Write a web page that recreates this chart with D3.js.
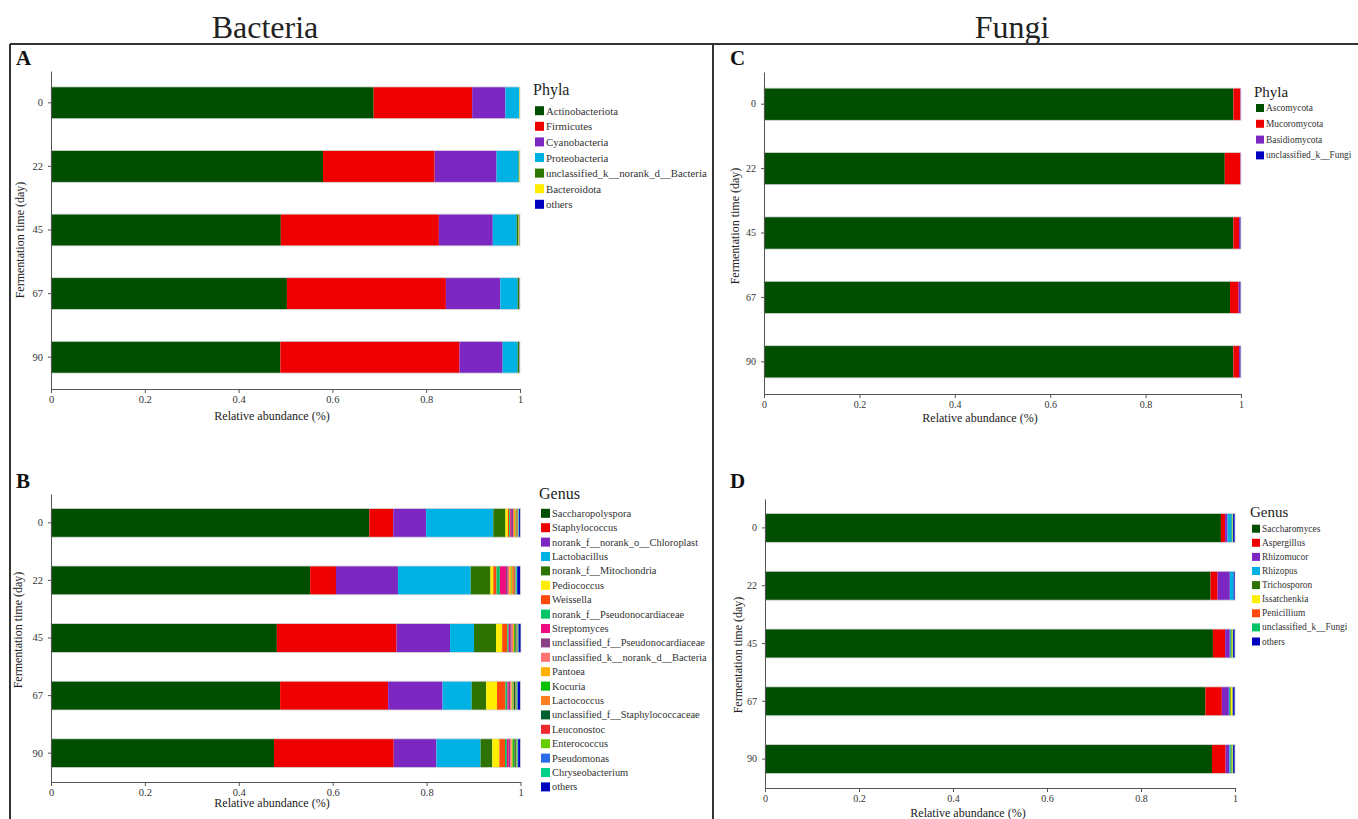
<!DOCTYPE html>
<html>
<head>
<meta charset="utf-8">
<script src="https://cdn.jsdelivr.net/npm/d3@7"></script>
<style>
  html, body { margin: 0; padding: 0; background: #fff; }
  svg { display: block; font-family: "Liberation Serif", "Times New Roman", serif; }
</style>
</head>
<body>
<svg id="chart" width="1358" height="819"></svg>
<script>
// Sampling days (fermentation time) and x-axis ticks
const days = ["0", "22", "45", "67", "90"];
const xTickValues = [0, 0.2, 0.4, 0.6, 0.8, 1];
const xTickLabels = ["0", "0.2", "0.4", "0.6", "0.8", "1"];

// A: bacterial phyla (rows = taxa, columns = days)
const bacteriaPhyla = ["Actinobacteriota", "Firmicutes", "Cyanobacteria", "Proteobacteria",
  "unclassified_k__norank_d__Bacteria", "Bacteroidota", "others"];
const bacteriaPhylaColors = ["#004e00", "#ee0000", "#7d27c3", "#00b2e4", "#2e7800", "#ffee00", "#0000bf"];
const bacteriaPhylaValues = [
  [0.688, 0.580, 0.490, 0.503, 0.489],
  [0.210, 0.238, 0.337, 0.339, 0.382],
  [0.071, 0.132, 0.115, 0.116, 0.092],
  [0.029, 0.047, 0.051, 0.037, 0.032],
  [0.001, 0.002, 0.004, 0.003, 0.003],
  [0.001, 0.001, 0.002, 0.001, 0.001],
  [0.000, 0.000, 0.001, 0.001, 0.001]
];

// B: bacterial genera
const bacteriaGenera = ["Saccharopolyspora", "Staphylococcus", "norank_f__norank_o__Chloroplast",
  "Lactobacillus", "norank_f__Mitochondria", "Pediococcus", "Weissella",
  "norank_f__Pseudonocardiaceae", "Streptomyces", "unclassified_f__Pseudonocardiaceae",
  "unclassified_k__norank_d__Bacteria", "Pantoea", "Kocuria", "Lactococcus",
  "unclassified_f__Staphylococcaceae", "Leuconostoc", "Enterococcus", "Pseudomonas",
  "Chryseobacterium", "others"];
const bacteriaGeneraColors = ["#004e00", "#ee0000", "#7d27c3", "#00b2e4", "#2e7300", "#ffee00",
  "#ff4a0a", "#00c466", "#ee0a80", "#8b3f88", "#ff7272", "#ffb000", "#00bf00", "#ff8020",
  "#005f2e", "#ee2a30", "#66cc00", "#2c6be6", "#00d08a", "#0000bf"];
const bacteriaGeneraValues = [
  [0.678, 0.552, 0.481, 0.488, 0.475],
  [0.051, 0.055, 0.255, 0.230, 0.255],
  [0.070, 0.132, 0.114, 0.116, 0.091],
  [0.143, 0.155, 0.051, 0.062, 0.094],
  [0.026, 0.042, 0.047, 0.031, 0.025],
  [0.005, 0.006, 0.013, 0.023, 0.015],
  [0.003, 0.007, 0.011, 0.018, 0.012],
  [0.002, 0.007, 0.003, 0.004, 0.004],
  [0.002, 0.013, 0.003, 0.003, 0.004],
  [0.004, 0.004, 0.003, 0.003, 0.003],
  [0.002, 0.003, 0.003, 0.003, 0.003],
  [0.003, 0.005, 0.002, 0.002, 0.002],
  [0.001, 0.001, 0.002, 0.002, 0.003],
  [0.002, 0.004, 0.001, 0.001, 0.001],
  [0.001, 0.001, 0.002, 0.003, 0.003],
  [0.001, 0.002, 0.001, 0.001, 0.001],
  [0.001, 0.001, 0.002, 0.002, 0.002],
  [0.001, 0.001, 0.001, 0.001, 0.001],
  [0.001, 0.002, 0.001, 0.001, 0.001],
  [0.003, 0.007, 0.005, 0.006, 0.005]
];

// C: fungal phyla
const fungiPhyla = ["Ascomycota", "Mucoromycota", "Basidiomycota", "unclassified_k__Fungi"];
const fungiPhylaColors = ["#004e00", "#ee0000", "#7d27c3", "#0000bf"];
const fungiPhylaValues = [
  [0.984, 0.966, 0.984, 0.977, 0.984],
  [0.015, 0.033, 0.012, 0.018, 0.012],
  [0.001, 0.001, 0.003, 0.004, 0.003],
  [0.000, 0.000, 0.001, 0.001, 0.001]
];

// D: fungal genera
const fungiGenera = ["Saccharomyces", "Aspergillus", "Rhizomucor", "Rhizopus", "Trichosporon",
  "Issatchenkia", "Penicillium", "unclassified_k__Fungi", "others"];
const fungiGeneraColors = ["#004e00", "#ee0000", "#7d27c3", "#00b2e4", "#2e7300", "#ffee00",
  "#ff4a0a", "#00c466", "#0000bf"];
const fungiGeneraValues = [
  [0.970, 0.948, 0.953, 0.937, 0.951],
  [0.009, 0.015, 0.026, 0.035, 0.029],
  [0.005, 0.026, 0.010, 0.015, 0.008],
  [0.009, 0.008, 0.002, 0.002, 0.003],
  [0.001, 0.000, 0.002, 0.002, 0.002],
  [0.001, 0.000, 0.002, 0.003, 0.002],
  [0.000, 0.000, 0.000, 0.001, 0.000],
  [0.001, 0.000, 0.001, 0.001, 0.001],
  [0.004, 0.003, 0.004, 0.004, 0.004]
];

const svg = d3.select("#chart");
const ink = "#222";

// Section headings and frame
svg.append("text").attr("x", 265).attr("y", 38).attr("text-anchor", "middle")
  .attr("font-size", 32).attr("fill", ink).text("Bacteria");
svg.append("text").attr("x", 1012).attr("y", 38).attr("text-anchor", "middle")
  .attr("font-size", 32).attr("fill", ink).text("Fungi");
const frame = svg.append("g").attr("stroke", "#333").attr("stroke-width", 2);
frame.append("line").attr("x1", 10).attr("x2", 1358).attr("y1", 44).attr("y2", 44);
frame.append("line").attr("x1", 10).attr("x2", 10).attr("y1", 44).attr("y2", 819);
frame.append("line").attr("x1", 713).attr("x2", 713).attr("y1", 44).attr("y2", 819);

function drawPanel(p) {
  const g = svg.append("g");
  const x = d3.scaleLinear().domain([0, 1]).range([p.x0, p.x1]);
  const y = d3.scaleBand().domain(days).range([p.yTop, p.yBot])
    .paddingInner(0.5).paddingOuter(0.25);
  const color = d3.scaleOrdinal().domain(p.taxa).range(p.colors);

  const rows = days.map((d, i) => {
    const r = { day: d };
    p.taxa.forEach((t, j) => { r[t] = p.values[j][i]; });
    return r;
  });
  const series = d3.stack().keys(p.taxa)(rows);

  g.append("g").selectAll("g").data(series).join("g")
    .attr("fill", s => color(s.key))
    .selectAll("rect").data(s => s).join("rect")
    .attr("x", d => x(d[0]))
    .attr("width", d => Math.max(0, x(d[1]) - x(d[0])))
    .attr("y", d => y(d.data.day))
    .attr("height", y.bandwidth());

  // faint outline around each stacked bar
  g.append("g").selectAll("rect").data(rows).join("rect")
    .attr("x", x(0)).attr("y", d => y(d.day))
    .attr("width", d => x(d3.sum(p.taxa, t => d[t])) - x(0))
    .attr("height", y.bandwidth())
    .attr("fill", "none").attr("stroke", "#d8d8d8").attr("stroke-width", 0.8);

  const xAxis = d3.axisBottom(x).tickValues(xTickValues)
    .tickFormat((d, i) => xTickLabels[i]).tickSize(4).tickSizeOuter(0).tickPadding(3);
  const gx = g.append("g").attr("transform", `translate(0,${p.yBot})`).call(xAxis);
  const yAxis = d3.axisLeft(y).tickSize(3).tickSizeOuter(0).tickPadding(5);
  const gy = g.append("g").attr("transform", `translate(${p.x0},0)`).call(yAxis);
  [gx, gy].forEach(a => {
    a.attr("font-family", null).attr("font-size", null);
    a.select(".domain").attr("stroke", "#555");
    a.selectAll(".tick line").attr("stroke", "#555");
    a.selectAll(".tick text").attr("fill", "#333").attr("font-size", p.tickFont);
  });

  g.append("text").attr("x", p.xTitle[0]).attr("y", p.xTitle[1]).attr("text-anchor", "middle")
    .attr("font-size", p.titleFont).attr("fill", ink).text("Relative abundance (%)");
  g.append("text").attr("transform", `translate(${p.yTitle[0]},${p.yTitle[1]}) rotate(-90)`)
    .attr("text-anchor", "middle").attr("dominant-baseline", "middle")
    .attr("font-size", p.titleFont).attr("fill", ink).text("Fermentation time (day)");
  g.append("text").attr("x", p.letter[0]).attr("y", p.letter[1])
    .attr("font-size", 21).attr("font-weight", "bold").attr("fill", "#111").text(p.name);

  // legend
  const lg = g.append("g");
  lg.append("text").attr("x", p.legend.x - 2).attr("y", p.legend.titleY)
    .attr("font-size", p.legend.titleFont).attr("fill", ink).text(p.legend.title);
  const items = lg.selectAll("g.item").data(p.taxa).join("g")
    .attr("transform", (d, i) => `translate(${p.legend.x},${p.legend.y0 + i * p.legend.step})`);
  items.append("rect").attr("x", 0).attr("y", -p.legend.sw / 2)
    .attr("width", p.legend.sw).attr("height", p.legend.sw).attr("fill", d => color(d));
  items.append("text").attr("x", p.legend.sw + 2).attr("y", 0).attr("dominant-baseline", "central")
    .attr("font-size", p.legend.font).attr("fill", "#333").text(d => d);
}

drawPanel({
  name: "A", taxa: bacteriaPhyla, colors: bacteriaPhylaColors, values: bacteriaPhylaValues,
  x0: 51, x1: 520, yTop: 71, yBot: 389, tickFont: 10.5, titleFont: 12,
  xTitle: [272, 420], yTitle: [21, 240], letter: [16, 65],
  legend: { title: "Phyla", x: 535, titleY: 95, titleFont: 16, y0: 110.7, step: 15.6, sw: 9, font: 10.8 }
});
drawPanel({
  name: "B", taxa: bacteriaGenera, colors: bacteriaGeneraColors, values: bacteriaGeneraValues,
  x0: 51, x1: 520.5, yTop: 494, yBot: 782, tickFont: 10.5, titleFont: 12,
  xTitle: [272, 807], yTitle: [19, 630], letter: [16, 488],
  legend: { title: "Genus", x: 541, titleY: 499, titleFont: 16, y0: 513.3, step: 14.4, sw: 9, font: 10.4 }
});
drawPanel({
  name: "C", taxa: fungiPhyla, colors: fungiPhylaColors, values: fungiPhylaValues,
  x0: 764, x1: 1241, yTop: 72, yBot: 394, tickFont: 10, titleFont: 12,
  xTitle: [980, 422], yTitle: [736, 226], letter: [730, 65],
  legend: { title: "Phyla", x: 1256, titleY: 97, titleFont: 15, y0: 108, step: 15.8, sw: 8, font: 9.4 }
});
drawPanel({
  name: "D", taxa: fungiGenera, colors: fungiGeneraColors, values: fungiGeneraValues,
  x0: 765, x1: 1235, yTop: 499, yBot: 788, tickFont: 10, titleFont: 12,
  xTitle: [968, 817], yTitle: [739, 655], letter: [730, 488],
  legend: { title: "Genus", x: 1252, titleY: 517, titleFont: 15, y0: 528.7, step: 14.1, sw: 8, font: 9.4 }
});
</script>
</body>
</html>
